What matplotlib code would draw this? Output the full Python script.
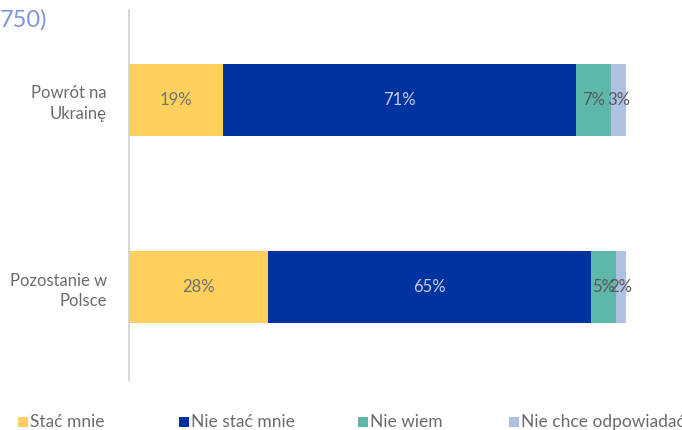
import matplotlib
matplotlib.use('Agg')
import matplotlib.pyplot as plt
from matplotlib.patches import Rectangle

plt.rcParams['font.family'] = ['Lato', 'DejaVu Sans']

categories = ['Powrót na\nUkrainę', 'Pozostanie w\nPolsce']
series = ['Stać mnie', 'Nie stać mnie', 'Nie wiem', 'Nie chce odpowiadać']
values = [
    [19, 28],
    [71, 65],
    [7, 5],
    [3, 2],
]
colors = ['#FFD15C', '#0033A0', '#5DB8AA', '#B0C0E0']
label_colors = ['#707070', '#c5cde6', '#595959', '#595959']
text_gray = '#6b6b6b'

fig = plt.figure(figsize=(6.82, 4.30), dpi=100)
ax = fig.add_axes([129 / 682, 50 / 430, 497 / 682, 370 / 430])

ypos = [0, 1]
left = [0, 0]
for s in range(len(series)):
    ax.barh(ypos, values[s], left=left, height=0.38, color=colors[s],
            label=series[s])
    for i in range(len(ypos)):
        ax.text(left[i] + values[s][i] / 2.0, ypos[i], '%d%%' % values[s][i],
                ha='center', va='center', fontsize=12, color=label_colors[s])
        left[i] += values[s][i]

ax.set_xlim(0, 100)
ax.set_ylim(1 + 93 / 187.0, -90 / 187.0)
ax.set_yticks(ypos)
ax.set_yticklabels(categories, fontsize=12, color=text_gray, ha='right',
                   linespacing=1.35)
ax.tick_params(axis='y', length=0, pad=16)
ax.set_xticks([])
for sp in ['top', 'right', 'bottom']:
    ax.spines[sp].set_visible(False)
ax.spines['left'].set_color('#d0d0d0')
ax.spines['left'].set_linewidth(1.2)

fig.text(0, 1 - 20 / 430.0, '750)', fontsize=17, color='#7f96d4',
         ha='left', va='center')

# legend placed by hand along the bottom
leg_x = [18, 179, 358, 509]
leg_y = 1 - 422 / 430.0
sq_w = 10 / 682.0
sq_h = 10 / 430.0
for k in range(len(series)):
    x0 = leg_x[k] / 682.0
    fig.patches.append(Rectangle((x0, leg_y - sq_h / 2), sq_w, sq_h,
                                 transform=fig.transFigure,
                                 facecolor=colors[k], edgecolor='none'))
    fig.text(x0 + sq_w + 2 / 682.0, leg_y, series[k], fontsize=12.5,
             color=text_gray, ha='left', va='center')

fig.savefig('out.png', dpi=100)
